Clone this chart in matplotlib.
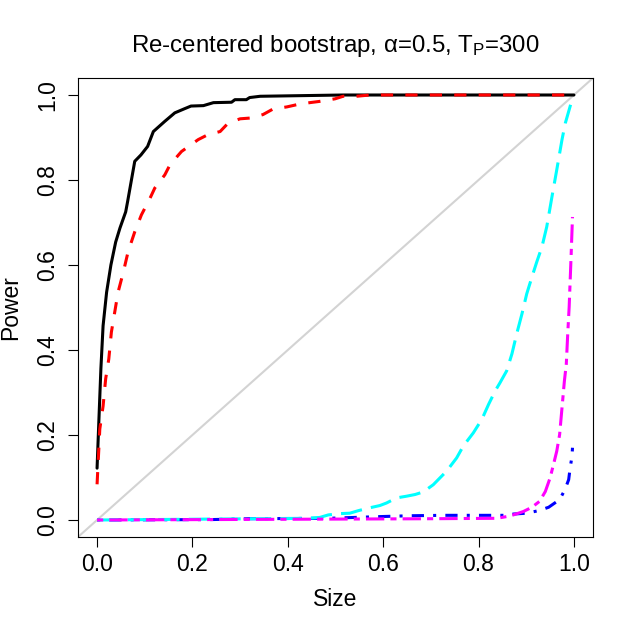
import matplotlib
matplotlib.use("Agg")
import matplotlib.pyplot as plt

plt.rcParams['font.family'] = ['Liberation Sans', 'DejaVu Sans']
plt.rcParams['mathtext.fontset'] = 'custom'
plt.rcParams['mathtext.rm'] = 'Liberation Sans'
plt.rcParams['mathtext.it'] = 'Liberation Sans'

# ---- data (size, power) ----
black_x = [0, 0.0036, 0.008, 0.0126, 0.02, 0.029, 0.039, 0.048, 0.06, 0.064, 0.079, 0.092, 0.106,
           0.118, 0.142, 0.163, 0.184, 0.197, 0.223, 0.244, 0.282, 0.289, 0.313, 0.32, 0.342, 0.516, 1.0]
black_y = [0.122, 0.229, 0.356, 0.457, 0.536, 0.60, 0.654, 0.687, 0.725, 0.749, 0.844, 0.859, 0.879,
           0.914, 0.938, 0.958, 0.968, 0.974, 0.975, 0.982, 0.983, 0.989, 0.989, 0.994, 0.997, 1.0, 1.0]

red_x = [0, 0.0057, 0.0126, 0.018, 0.0246, 0.030, 0.037, 0.044, 0.055, 0.065, 0.079, 0.093, 0.111,
         0.121, 0.142, 0.153, 0.177, 0.212, 0.233, 0.258, 0.275, 0.30, 0.324, 0.348, 0.369, 0.398,
         0.422, 0.446, 0.467, 0.499, 0.516, 0.544, 0.572, 1.0]
red_y = [0.084, 0.214, 0.268, 0.332, 0.379, 0.442, 0.489, 0.536, 0.583, 0.631, 0.678, 0.718, 0.757,
         0.781, 0.812, 0.836, 0.867, 0.895, 0.907, 0.914, 0.934, 0.944, 0.946, 0.954, 0.967, 0.972,
         0.978, 0.982, 0.985, 0.991, 0.997, 0.997, 1.0, 1.0]

blue_x = [0, 0.24, 0.32, 0.485, 0.593, 0.656, 0.726, 0.803, 0.859, 0.873, 0.901, 0.926, 0.947,
          0.970, 0.981, 0.989, 0.992, 0.996, 0.997]
blue_y = [0, 0.001, 0.003, 0.004, 0.008, 0.010, 0.011, 0.011, 0.011, 0.014, 0.016, 0.022, 0.030,
          0.048, 0.071, 0.095, 0.122, 0.150, 0.170]

cyan_x = [0, 0.44, 0.467, 0.485, 0.509, 0.53, 0.548, 0.569, 0.593, 0.607, 0.628, 0.649, 0.667,
          0.684, 0.705, 0.733, 0.754, 0.768, 0.789, 0.807, 0.821, 0.835, 0.845, 0.859, 0.870, 0.880,
          0.891, 0.901, 0.912, 0.922, 0.933, 0.943, 0.954, 0.964, 0.975, 0.982, 0.993]
cyan_y = [0, 0.004, 0.006, 0.012, 0.015, 0.016, 0.022, 0.028, 0.034, 0.040, 0.052, 0.056, 0.060,
          0.066, 0.083, 0.115, 0.146, 0.174, 0.205, 0.237, 0.272, 0.304, 0.323, 0.351, 0.391, 0.438,
          0.485, 0.532, 0.572, 0.607, 0.643, 0.690, 0.761, 0.824, 0.895, 0.934, 0.977]

magenta_x = [0, 0.70, 0.838, 0.859, 0.873, 0.894, 0.912, 0.928, 0.940, 0.950, 0.957, 0.964, 0.970,
             0.975, 0.980, 0.984, 0.987, 0.990, 0.994, 0.997]
magenta_y = [0, 0.003, 0.004, 0.008, 0.012, 0.020, 0.030, 0.044, 0.067, 0.099, 0.130, 0.162, 0.201,
             0.264, 0.327, 0.367, 0.438, 0.501, 0.619, 0.713]

ticks = [0.0, 0.2, 0.4, 0.6, 0.8, 1.0]
tick_labels = ["0.0", "0.2", "0.4", "0.6", "0.8", "1.0"]

fig = plt.figure(figsize=(6.34, 6.33), dpi=100)
ax = fig.add_axes([78/634, 1 - 537/633, (593 - 78)/634, (537 - 78)/633])
ax.set_xlim(-0.04, 1.04)
ax.set_ylim(-0.04, 1.04)

lw = 2.2
ax.plot([-0.04, 1.04], [-0.04, 1.04], color='#D3D3D3', lw=1.5, zorder=1)
ax.plot(black_x, black_y, color='black', lw=lw, solid_capstyle='round', zorder=2)
ax.plot(red_x, red_y, color='red', lw=lw, dashes=(4, 4), zorder=3)
ax.plot(blue_x, blue_y, color='blue', lw=lw, dashes=(1, 3, 4, 3), zorder=4)
ax.plot(cyan_x, cyan_y, color='cyan', lw=lw, dashes=(7, 3), zorder=5)
ax.plot(magenta_x, magenta_y, color='magenta', lw=lw, dashes=(2, 2, 6, 2), zorder=6)

ax.set_xticks(ticks)
ax.set_xticklabels(tick_labels)
ax.set_yticks(ticks)
ax.set_yticklabels(tick_labels, rotation=90, va='center')
ax.tick_params(direction='out', length=7.2, width=0.8, labelsize=16.5)
ax.tick_params(axis='x', pad=4.5)
ax.tick_params(axis='y', pad=6.5)
for s in ax.spines.values():
    s.set_linewidth(0.8)

ax.set_xlabel("Size", fontsize=16.5, va='center')
ax.xaxis.set_label_coords(0.5, (537 - 600) / 459)
ax.set_ylabel("Power", fontsize=16.5, va='center')
ax.yaxis.set_label_coords((11 - 78) / 515, 0.5)
ax.set_title(r"Re-centered bootstrap, α=0.5, T$_{\mathrm{P}}$=300", fontsize=17.3, pad=19)

fig.savefig("out.png", dpi=100)
